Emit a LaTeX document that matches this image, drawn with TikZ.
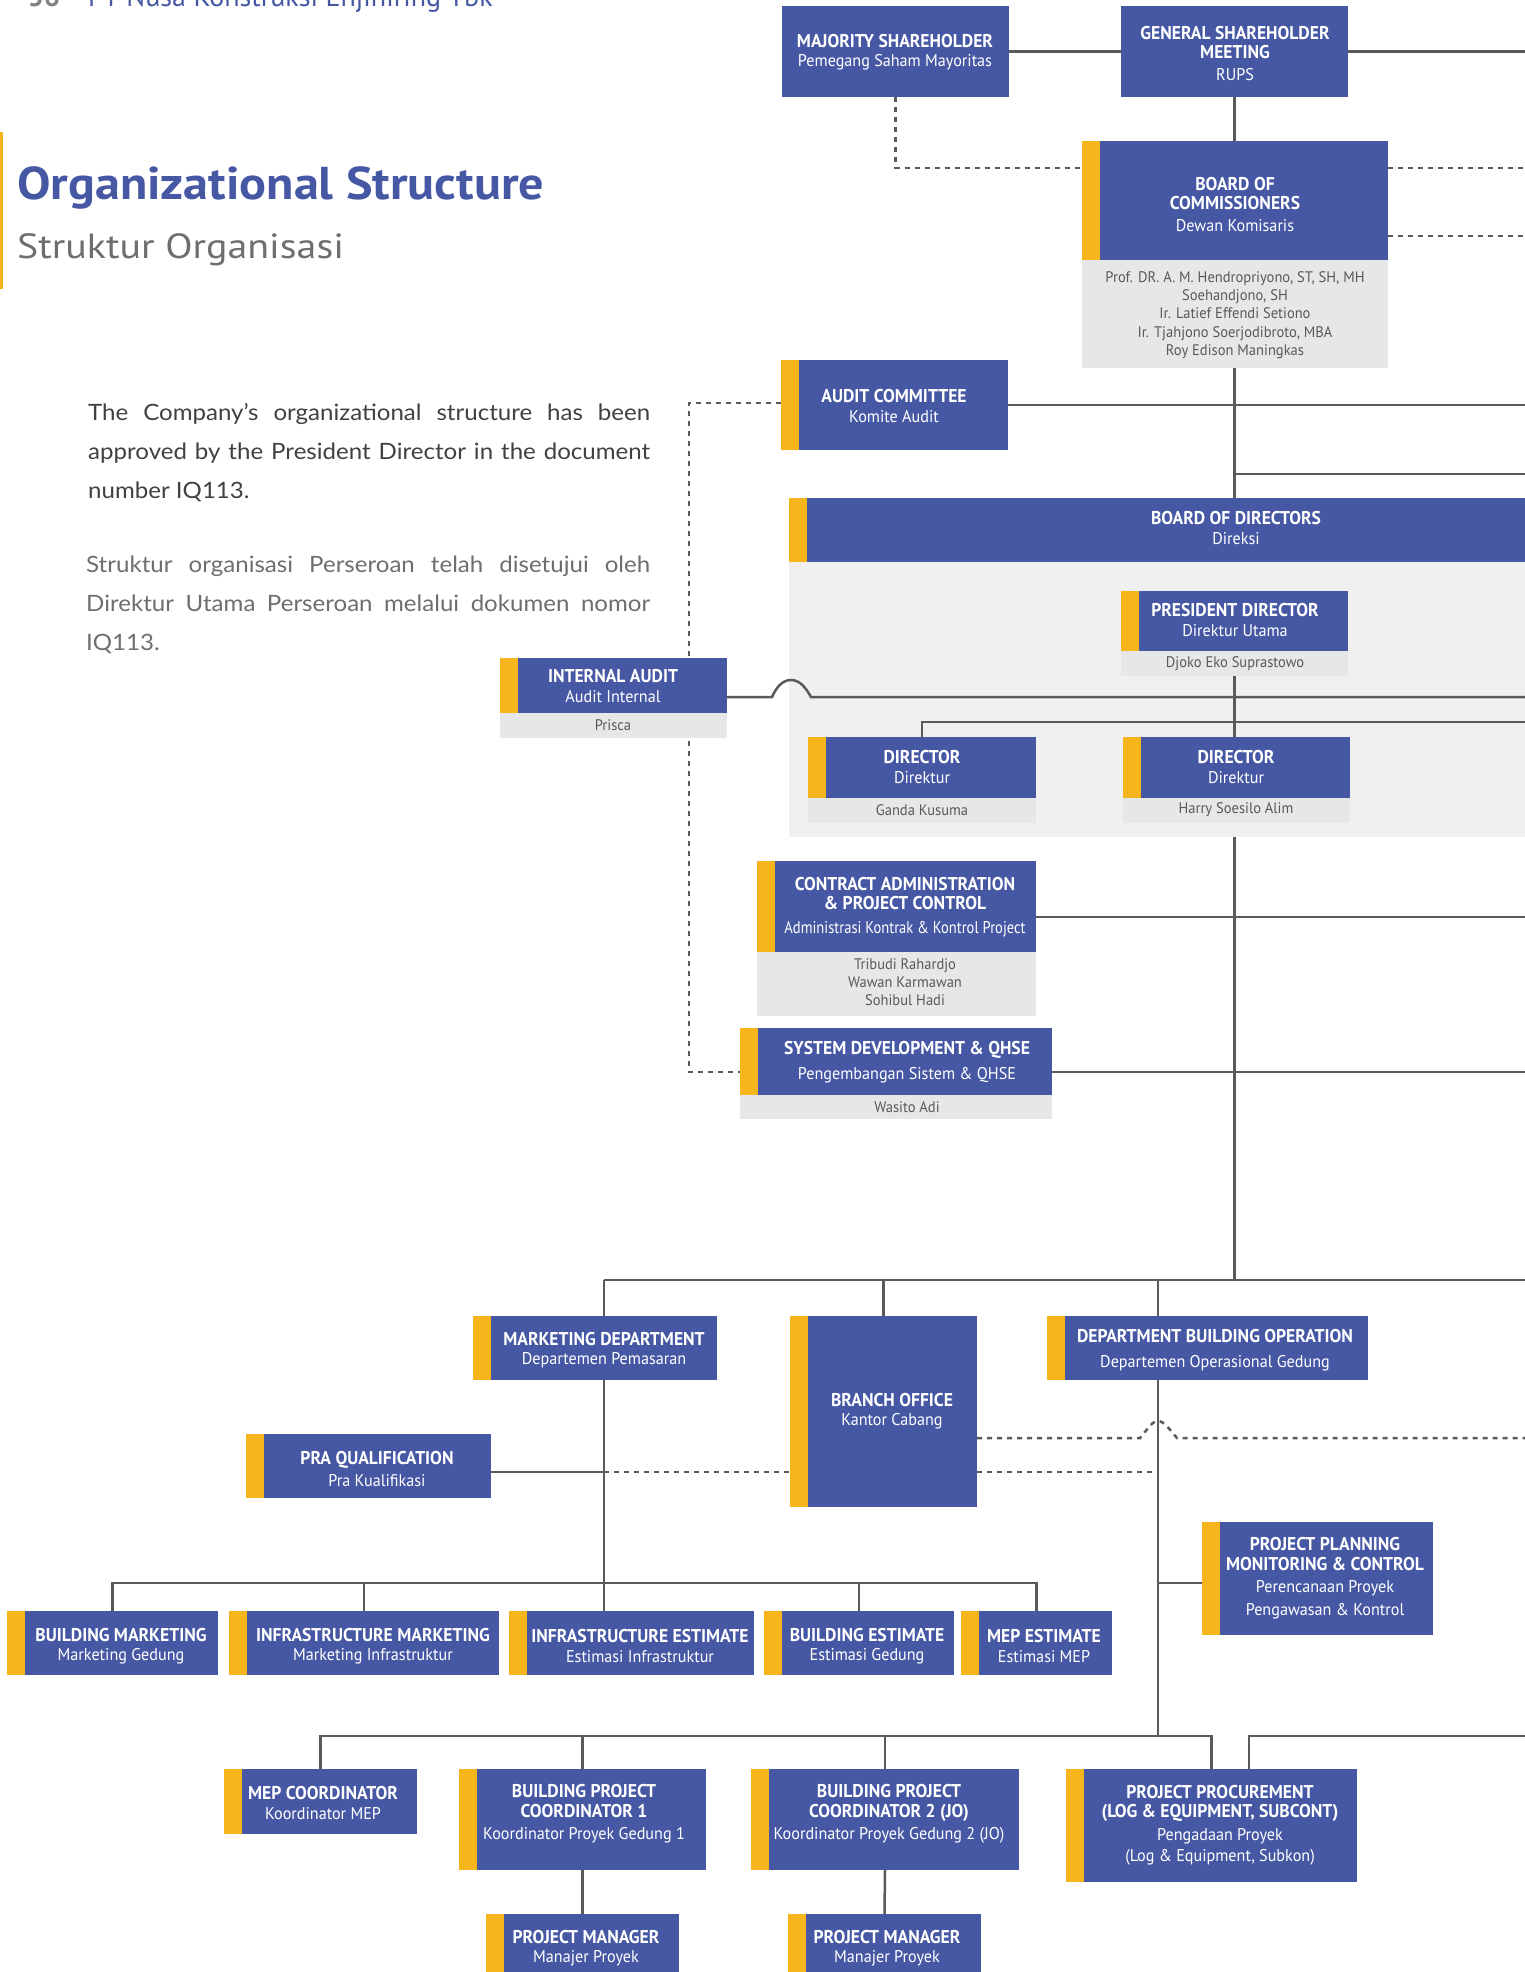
\documentclass[tikz,border=0pt]{standalone}
\usepackage{fontspec}
\usepackage{graphicx}
\setmainfont{PT Sans}
\newfontfamily\boxfont{PT Sans}[FakeStretch=0.95]
\newfontfamily\parafont{Lato}[FakeStretch=1.07]
\newfontfamily\titlefont{PT Sans}[FakeStretch=1.09]
\newfontfamily\subtitlefont{PT Sans}[FakeStretch=1.14]
\newfontfamily\headfont{PT Sans}
\usetikzlibrary{fit,calc}
\definecolor{bxblue}{HTML}{4658A4}
\definecolor{bxyellow}{HTML}{F5B51B}
\definecolor{namegrey}{HTML}{E6E7E8}
\definecolor{panelgrey}{HTML}{F0F0F0}
\definecolor{lineg}{HTML}{5A5A5C}
\definecolor{namecol}{HTML}{58595B}
\definecolor{paradark}{HTML}{414042}
\definecolor{paralight}{HTML}{6D6E71}
\definecolor{numgrey}{HTML}{808285}
\pgfdeclarelayer{back}
\pgfdeclarelayer{bg}
\pgfsetlayers{back,bg,main}
\tikzset{
  boxnode/.style={inner sep=0pt, outer sep=0pt, draw=none, fill=bxblue},
  namenode/.style={inner sep=0pt, outer sep=0pt, draw=none, fill=namegrey},
  btext/.style={font=\boxfont\fontsize{17}{19.5}\selectfont, text=white, align=center, inner sep=0pt},
  ntext/.style={font=\boxfont\fontsize{15.3}{18.3}\selectfont, text=namecol, align=center, inner sep=0pt},
  conn/.style={draw=lineg, line width=2.5pt},
  dashl/.style={draw=lineg, line width=2.5pt, dash pattern=on 5pt off 5pt},
}
\newcommand\OrgBox[6]{\node[boxnode, fit={(#2,#3) (#4,#5)}] (#1) {};\ifnum#6>0 \fill[bxyellow] (#2,#3) rectangle (#2+#6,#5);\fi}
\newcommand\NameBox[5]{\node[namenode, fit={(#2,#3) (#4,#5)}] (#1) {};}
\newcommand\TX[4]{\node[btext] (#1) at (#2,#3) {#4};}
\newcommand\NT[4]{\node[ntext] (#1) at (#2,#3) {#4};}
\newcommand\B[1]{{\fontsize{18.5}{19.5}\selectfont\bfseries #1}}
\begin{document}
\begin{tikzpicture}[x=1pt, y=-1pt]
\useasboundingbox (0,0) rectangle (1524,1972);
\begin{pgfonlayer}{back}
\fill[white] (0,0) rectangle (1524,1972);
\end{pgfonlayer}
\coordinate (R) at (1540,0);

% header and titles
\node[anchor=base west, inner sep=0pt, text=numgrey, font=\headfont\bfseries\fontsize{28}{30}\selectfont] (pgnum) at (28,7) {56};
\node[anchor=base west, inner sep=0pt, text=bxblue, font=\headfont\fontsize{28}{30}\selectfont] (pghead) at (88,7) {PT Nusa Konstruksi Enjiniring Tbk};
\fill[bxyellow] (0,132) rectangle (3,289);
\node[anchor=base west, inner sep=0pt, text=bxblue, font=\titlefont\bfseries\fontsize{46}{50}\selectfont] (title) at (17,200) {Organizational Structure};
\node[anchor=base west, inner sep=0pt, text=paralight, font=\subtitlefont\fontsize{35}{40}\selectfont] (subtitle) at (17,258) {Struktur Organisasi};

\node[anchor=base west, inner sep=0pt, text=paradark] (para1) at (88,420) {\parbox[t]{562pt}{\parafont\fontsize{22.5}{39}\selectfont The Company’s organizational structure has been\linebreak approved by the President Director in the document\linebreak number IQ113.}};
\node[anchor=base west, inner sep=0pt, text=paralight] (para2) at (86,572) {\parbox[t]{564pt}{\parafont\fontsize{22.5}{39}\selectfont Struktur organisasi Perseroan telah disetujui oleh\linebreak Direktur Utama Perseroan melalui dokumen nomor\linebreak IQ113.}};

% panel
\begin{pgfonlayer}{back}
\node[inner sep=0pt, outer sep=0pt, fill=panelgrey, fit={(789,562) (1600,837)}] (panel) {};
\end{pgfonlayer}

% boxes
\OrgBox{msh}{782}{6}{1009}{97}{0}
\OrgBox{gsm}{1121}{6}{1348}{97}{0}
\OrgBox{boc}{1082}{141}{1388}{260}{18}
\NameBox{boc-n}{1082}{260}{1388}{368}
\OrgBox{ac}{781}{360}{1008}{450}{18}
\OrgBox{bod}{789}{498}{1600}{562}{18}
\OrgBox{pd}{1121}{591}{1348}{651}{18}
\NameBox{pd-n}{1121}{651}{1348}{676}
\OrgBox{d1}{808}{737}{1036}{798}{18}
\NameBox{d1-n}{808}{798}{1036}{823}
\OrgBox{d2}{1123}{737}{1350}{798}{18}
\NameBox{d2-n}{1123}{798}{1350}{823}
\OrgBox{ia}{500}{658}{727}{713}{18}
\NameBox{ia-n}{500}{713}{727}{738}
\OrgBox{ca}{757}{861}{1036}{952}{18}
\NameBox{ca-n}{757}{952}{1036}{1016}
\OrgBox{sd}{740}{1028}{1052}{1095}{18}
\NameBox{sd-n}{740}{1095}{1052}{1119}
\OrgBox{mk}{473}{1316}{717}{1380}{18}
\OrgBox{bo}{790}{1316}{977}{1507}{18}
\OrgBox{dbo}{1047}{1316}{1368}{1380}{18}
\OrgBox{pq}{246}{1434}{491}{1498}{18}
\OrgBox{ppmc}{1202}{1522}{1433}{1635}{18}
\OrgBox{bm}{7}{1611}{218}{1675}{18}
\OrgBox{im}{229}{1611}{499}{1675}{18}
\OrgBox{ie}{509}{1611}{754}{1675}{18}
\OrgBox{be}{764}{1611}{954}{1675}{18}
\OrgBox{me}{961}{1611}{1112}{1675}{18}
\OrgBox{mc}{224}{1769}{417}{1834}{18}
\OrgBox{bpc1}{459}{1769}{706}{1870}{18}
\OrgBox{bpc2}{751}{1769}{1019}{1870}{18}
\OrgBox{proc}{1066}{1769}{1357}{1882}{18}
\OrgBox{pm1}{486}{1914}{679}{1980}{18}
\OrgBox{pm2}{788}{1914}{981}{1980}{18}

% texts
\TX{msh-t}{895}{52}{\B{MAJORITY SHAREHOLDER}\\Pemegang Saham Mayoritas}
\TX{gsm-t}{1235}{53}{\B{GENERAL SHAREHOLDER}\\\B{MEETING}\\[2pt]RUPS}
\TX{boc-t}{1235}{204}{\B{BOARD OF}\\\B{COMMISSIONERS}\\[2pt]Dewan Komisaris}
\NT{boc-nt}{1235}{315}{Prof. DR. A. M. Hendropriyono, ST, SH, MH\\Soehandjono, SH\\Ir. Latief Effendi Setiono\\Ir. Tjahjono Soerjodibroto, MBA\\Roy Edison Maningkas}
\TX{ac-t}{894}{406}{\B{AUDIT COMMITTEE}\\Komite Audit}
\TX{bod-t}{1236}{528}{\B{BOARD OF DIRECTORS}\\Direksi}
\TX{pd-t}{1235}{620}{\B{PRESIDENT DIRECTOR}\\Direktur Utama}
\NT{pd-nt}{1235}{664}{Djoko Eko Suprastowo}
\TX{d1-t}{922}{767}{\B{DIRECTOR}\\Direktur}
\NT{d1-nt}{922}{810}{Ganda Kusuma}
\TX{d2-t}{1236}{767}{\B{DIRECTOR}\\Direktur}
\NT{d2-nt}{1236}{810}{Harry Soesilo Alim}
\TX{ia-t}{613}{686}{\B{INTERNAL AUDIT}\\Audit Internal}
\NT{ia-nt}{613}{725}{Prisca}
\TX{ca-t}{905}{907}{\B{CONTRACT ADMINISTRATION}\\\B{\& PROJECT CONTROL}\\[4pt]\scalebox{0.9}[1]{Administrasi Kontrak \& Kontrol Project}}
\NT{ca-nt}{905}{982}{Tribudi Rahardjo\\Wawan Karmawan\\Sohibul Hadi}
\TX{sd-t}{907}{1062}{\B{SYSTEM DEVELOPMENT \& QHSE}\\[6pt]Pengembangan Sistem \& QHSE}
\NT{sd-nt}{907}{1107}{Wasito Adi}
\TX{mk-t}{604}{1350}{\B{MARKETING DEPARTMENT}\\Departemen Pemasaran}
\TX{bo-t}{892}{1411}{\B{BRANCH OFFICE}\\Kantor Cabang}
\TX{dbo-t}{1215}{1350}{\B{DEPARTMENT BUILDING OPERATION}\\[5pt]Departemen Operasional Gedung}
\TX{pq-t}{377}{1469}{\B{PRA QUALIFICATION}\\[2pt]Pra Kualifikasi}
\TX{ppmc-t}{1325}{1578}{\B{PROJECT PLANNING}\\\B{MONITORING \& CONTROL}\\[3pt]Perencanaan Proyek\\[3pt]Pengawasan \& Kontrol}
\TX{bm-t}{121}{1646}{\B{BUILDING MARKETING}\\Marketing Gedung}
\TX{im-t}{373}{1646}{\B{INFRASTRUCTURE MARKETING}\\Marketing Infrastruktur}
\TX{ie-t}{640}{1646}{\B{INFRASTRUCTURE ESTIMATE}\\Estimasi Infrastruktur}
\TX{be-t}{867}{1646}{\B{BUILDING ESTIMATE}\\Estimasi Gedung}
\TX{me-t}{1044}{1646}{\B{MEP ESTIMATE}\\Estimasi MEP}
\TX{mc-t}{323}{1803}{\B{MEP COORDINATOR}\\Koordinator MEP}
\TX{bpc1-t}{584}{1814}{\B{BUILDING PROJECT}\\\B{COORDINATOR 1}\\[3pt]Koordinator Proyek Gedung 1}
\TX{bpc2-t}{889}{1814}{\B{BUILDING PROJECT}\\\B{COORDINATOR 2 (JO)}\\[3pt]Koordinator Proyek Gedung 2 (JO)}
\TX{proc-t}{1220}{1825}{\B{PROJECT PROCUREMENT}\\\B{(LOG \& EQUIPMENT, SUBCONT)}\\[3pt]Pengadaan Proyek\\[2pt](Log \& Equipment, Subkon)}
\TX{pm1-t}{586}{1948}{\B{PROJECT MANAGER}\\Manajer Proyek}
\TX{pm2-t}{887}{1948}{\B{PROJECT MANAGER}\\Manajer Proyek}

% connectors
\begin{pgfonlayer}{bg}
\draw[conn] (msh.east) -- (gsm.west);
\draw[conn] (gsm.east) -- (gsm.east -| R);
\draw[conn] (gsm.south) -- (gsm.south |- bod.north);
\draw[dashl] (msh.south) |- ($(boc.north west)+(0,27)$);
\draw[dashl] ($(boc.north east)+(0,27)$) -- ++(150,0);
\draw[dashl] ($(boc.north east)+(0,95)$) -- ++(150,0);
\draw[conn] (ac.east) -- (ac.east -| R);
\draw[conn] ($(boc-n.south)+(0,106)$) -- ++(300,0);
\draw[dashl] ($(ac.north west)+(0,43)$) -| ($(sd.north west)+(-51,44)$) -- ($(sd.north west)+(0,44)$);
\draw[conn] (pd-n.south) -- (pd-n.south |- d2.north);
\draw[conn] ($(ia.north east)+(0,39)$) -- (772,697) .. controls (776,688) and (782,680) .. (791,680) .. controls (800,680) and (806,688) .. (811,697) -- ++(730,0);
\draw[conn] (d1.north) -- ++(0,-15) -- ++(700,0);
\draw[conn] ($(ca.north east)+(0,56)$) -- ++(550,0);
\draw[conn] ($(sd.north east)+(0,44)$) -- ++(550,0);
\coordinate (J) at ($(panel.south -| pd-n.south)+(0,443)$);
\coordinate (mkx) at ($(mk.north)+(9,0)$);
\draw[conn] (panel.south -| pd-n.south) -- (J);
\draw[conn] (J -| mkx) -- (J -| R);
\draw[conn] (J -| mkx) -- (ie.north -| mkx);
\draw[conn] (J -| bo.north) -- (bo.north);
\coordinate (dbx) at ($(dbo.north west)+(111,0)$);
\draw[conn] (J -| dbx) -- ($(dbx)+(0,420)$);
\coordinate (pqy) at ($(pq.north east)+(0,38)$);
\draw[conn] (pqy) -- (pqy -| mkx);
\draw[dashl] (pqy -| mkx) -- (pqy -| bo.west);
\draw[dashl] (pqy -| bo.east) -- (pqy -| dbx);
\coordinate (boy) at ($(bo.north east)+(0,122)$);
\draw[dashl] (boy) -- (1140,1438) .. controls (1147,1430) and (1152,1421) .. (1158,1421) .. controls (1164,1421) and (1170,1430) .. (1177,1438) -- ++(400,0);
\draw[conn] (bm.north) -- ++(0,-28) -| (me.north);
\draw[conn] (im.north) -- ++(0,-28);
\draw[conn] (be.north) -- ++(0,-28);
\draw[conn] ($(ppmc.north west)+(0,61)$) -- ++(-44,0);
\draw[conn] (mc.north) -- ++(0,-33) -| (proc.north);
\draw[conn] (bpc1.north) -- ++(0,-33);
\draw[conn] (bpc2.north) -- ++(0,-33);
\draw[conn] ($(proc.north west)+(183,0)$) -- ++(0,-33) -- ++(400,0);
\draw[conn] (bpc1.south) -- (pm1.north);
\draw[conn] (bpc2.south) -- (pm2.north);
\end{pgfonlayer}
\end{tikzpicture}
\end{document}
